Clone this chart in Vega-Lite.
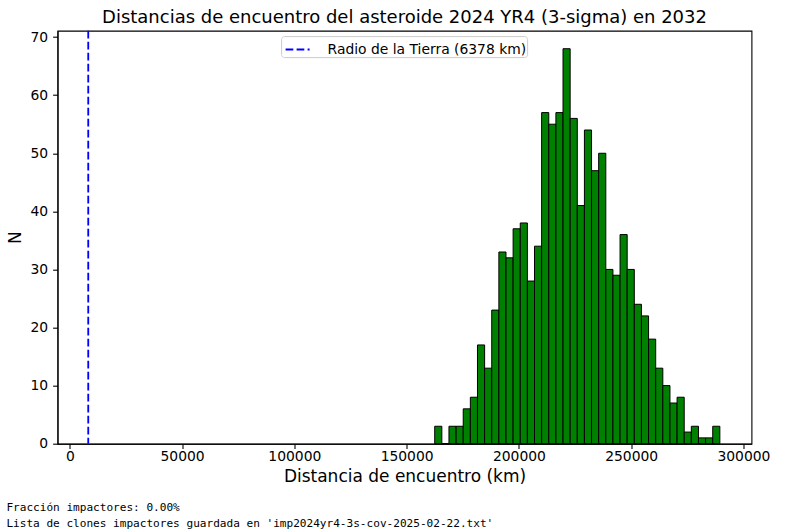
{
  "$schema": "https://vega.github.io/schema/vega-lite/v6.json",
  "background": "white",
  "padding": {"left": 5.5, "top": 7.7, "right": 5, "bottom": 5},
  "title": {
    "text": ["Fracción impactores: 0.00%", "Lista de clones impactores guardada en 'imp2024yr4-3s-cov-2025-02-22.txt'"],
    "orient": "bottom",
    "anchor": "start",
    "frame": "bounds",
    "font": "DejaVu Sans Mono",
    "fontSize": 11.1,
    "fontWeight": "normal",
    "color": "black",
    "lineHeight": 16,
    "offset": 16,
    "dx": 0
  },
  "config": {
    "view": {"stroke": "black", "strokeWidth": 1.1},
    "axis": {
      "domainColor": "black",
      "domainWidth": 1.1,
      "tickColor": "black",
      "tickWidth": 1.1,
      "tickSize": 4.9,
      "labelColor": "black",
      "titleColor": "black",
      "labelFont": "DejaVu Sans",
      "titleFont": "DejaVu Sans",
      "labelFontSize": 13.9,
      "titleFontSize": 17,
      "titleFontWeight": "normal",
      "grid": false
    },
    "legend": {
      "labelFont": "DejaVu Sans",
      "labelFontSize": 13.9,
      "labelColor": "black"
    }
  },
  "vconcat": [
    {
      "width": 694,
      "height": 413,
      "title": {
        "text": "Distancias de encuentro del asteroide 2024 YR4 (3-sigma) en 2032",
        "font": "DejaVu Sans",
        "fontSize": 18,
        "fontWeight": "normal",
        "color": "black",
        "anchor": "middle",
        "frame": "group",
        "baseline": "alphabetic",
        "offset": -10.8
      },
      "layer": [
        {
          "data": {
            "values": [
              {"start": 162510, "end": 165685, "n": 3},
              {"start": 165685, "end": 168860, "n": 0},
              {"start": 168860, "end": 172035, "n": 3},
              {"start": 172035, "end": 175210, "n": 3},
              {"start": 175210, "end": 178385, "n": 6},
              {"start": 178385, "end": 181560, "n": 8},
              {"start": 181560, "end": 184735, "n": 17},
              {"start": 184735, "end": 187910, "n": 13},
              {"start": 187910, "end": 191085, "n": 23},
              {"start": 191085, "end": 194260, "n": 33},
              {"start": 194260, "end": 197435, "n": 32},
              {"start": 197435, "end": 200610, "n": 37},
              {"start": 200610, "end": 203785, "n": 38},
              {"start": 203785, "end": 206960, "n": 28},
              {"start": 206960, "end": 210135, "n": 34},
              {"start": 210135, "end": 213310, "n": 57},
              {"start": 213310, "end": 216485, "n": 55},
              {"start": 216485, "end": 219660, "n": 57},
              {"start": 219660, "end": 222835, "n": 68},
              {"start": 222835, "end": 226010, "n": 56},
              {"start": 226010, "end": 229185, "n": 41},
              {"start": 229185, "end": 232360, "n": 54},
              {"start": 232360, "end": 235535, "n": 47},
              {"start": 235535, "end": 238710, "n": 50},
              {"start": 238710, "end": 241885, "n": 30},
              {"start": 241885, "end": 245060, "n": 29},
              {"start": 245060, "end": 248235, "n": 36},
              {"start": 248235, "end": 251410, "n": 30},
              {"start": 251410, "end": 254585, "n": 24},
              {"start": 254585, "end": 257760, "n": 22},
              {"start": 257760, "end": 260935, "n": 18},
              {"start": 260935, "end": 264110, "n": 13},
              {"start": 264110, "end": 267285, "n": 10},
              {"start": 267285, "end": 270460, "n": 7},
              {"start": 270460, "end": 273635, "n": 8},
              {"start": 273635, "end": 276810, "n": 2},
              {"start": 276810, "end": 279985, "n": 3},
              {"start": 279985, "end": 283160, "n": 1},
              {"start": 283160, "end": 286335, "n": 1},
              {"start": 286335, "end": 289510, "n": 3}
            ]
          },
          "mark": {"type": "bar", "fill": "#008000", "stroke": "black", "strokeWidth": 1, "opacity": 1},
          "encoding": {
            "x": {
              "field": "start",
              "type": "quantitative",
              "scale": {"domain": [-5490, 303600], "nice": false, "zero": false},
              "axis": {
                "title": "Distancia de encuentro (km)",
                "values": [0, 50000, 100000, 150000, 200000, 250000, 300000],
                "format": "d",
                "labelPadding": 0.5,
                "titlePadding": 6,
                "labelFlush": false,
                "labelOverlap": false
              }
            },
            "x2": {"field": "end"},
            "y": {
              "field": "n",
              "type": "quantitative",
              "scale": {"domain": [0, 71.1], "nice": false},
              "axis": {
                "title": "N",
                "values": [0, 10, 20, 30, 40, 50, 60, 70],
                "labelPadding": 5,
                "titlePadding": 5,
                "labelFlush": false
              }
            },
            "y2": {"datum": 0}
          }
        },
        {
          "data": {"values": [{"x": 8200, "label": "Radio de la Tierra (6378 km)"}]},
          "mark": {"type": "rule", "strokeWidth": 1.8, "strokeDash": [7.7, 3.3]},
          "encoding": {
            "x": {"field": "x", "type": "quantitative"},
            "color": {
              "field": "label",
              "type": "nominal",
              "scale": {"range": ["#0000ff"]},
              "legend": {
                "title": null,
                "orient": "none",
                "legendX": 223.6,
                "legendY": 5.4,
                "symbolType": "stroke",
                "symbolSize": 576,
                "symbolStrokeWidth": 2,
                "symbolDash": [7.7, 3.3],
                "symbolOffset": 3,
                "labelOffset": 17,
                "labelLimit": 400,
                "padding": 0.5,
                "fillColor": "white",
                "strokeColor": "#cccccc",
                "cornerRadius": 3
              }
            }
          }
        }
      ]
    }
  ]
}
